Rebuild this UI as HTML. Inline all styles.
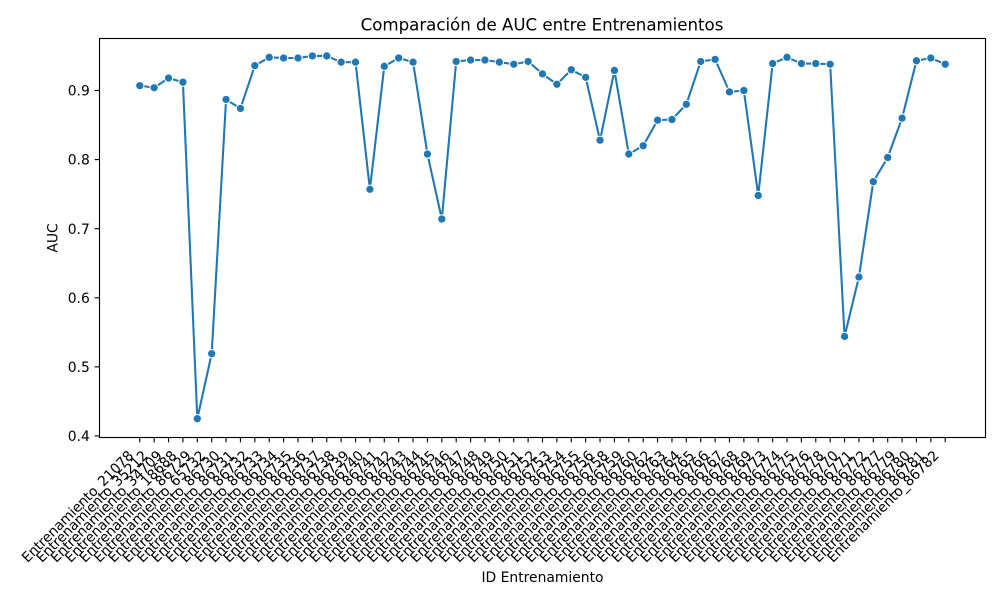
<!DOCTYPE html>
<html lang="es">
<head>
<meta charset="utf-8">
<title>Comparación de AUC entre Entrenamientos</title>
<style>
html,body{margin:0;padding:0;background:#fff;width:1000px;height:600px;overflow:hidden}
svg{display:block}
text{font-family:"DejaVu Sans","Liberation Sans",sans-serif;fill:#000}
</style>
</head>
<body>
<svg id="chart" xmlns="http://www.w3.org/2000/svg" width="1000" height="600" viewBox="0 0 1000 600">
  <rect x="0" y="0" width="1000" height="600" fill="#fff"/>
  <text x="542" y="30.5" font-size="16.67" text-anchor="middle" letter-spacing="-0.03">Comparación de AUC entre Entrenamientos</text>
  <text x="542.5" y="582" font-size="13.89" text-anchor="middle">ID Entrenamiento</text>
  <text transform="translate(57.5 238) rotate(-90)" font-size="13.89" text-anchor="middle">AUC</text>
  <g id="x-ticks"></g>
  <g id="y-ticks"></g>
  <path id="series-line" fill="none" stroke="#1f77b4" stroke-width="2.08" stroke-linejoin="round" stroke-linecap="round"></path>
  <g id="series-points"></g>
  <rect x="99.5" y="38.5" width="886" height="399" fill="none" stroke="#000" stroke-width="1.11"/>
</svg>
<script>
const categories = [
  "Entrenamiento_21078","Entrenamiento_35212","Entrenamiento_34709","Entrenamiento_18688",
  "Entrenamiento_86729","Entrenamiento_65732","Entrenamiento_86730","Entrenamiento_86731",
  "Entrenamiento_86732","Entrenamiento_86733","Entrenamiento_86734","Entrenamiento_86735",
  "Entrenamiento_86736","Entrenamiento_86737","Entrenamiento_86738","Entrenamiento_86739",
  "Entrenamiento_86740","Entrenamiento_86741","Entrenamiento_86742","Entrenamiento_86743",
  "Entrenamiento_86744","Entrenamiento_86745","Entrenamiento_86746","Entrenamiento_86747",
  "Entrenamiento_86748","Entrenamiento_86749","Entrenamiento_86750","Entrenamiento_86751",
  "Entrenamiento_86752","Entrenamiento_86753","Entrenamiento_86754","Entrenamiento_86755",
  "Entrenamiento_86756","Entrenamiento_86758","Entrenamiento_86759","Entrenamiento_86760",
  "Entrenamiento_86762","Entrenamiento_86763","Entrenamiento_86764","Entrenamiento_86765",
  "Entrenamiento_86766","Entrenamiento_86767","Entrenamiento_86768","Entrenamiento_86769",
  "Entrenamiento_86773","Entrenamiento_86774","Entrenamiento_86775","Entrenamiento_86776",
  "Entrenamiento_86778","Entrenamiento_86770","Entrenamiento_86771","Entrenamiento_86772",
  "Entrenamiento_86777","Entrenamiento_86779","Entrenamiento_86780","Entrenamiento_86781",
  "Entrenamiento_86782"
];
const aucValues = [
  0.907,0.904,0.918,0.912,0.425,0.519,0.887,0.874,0.936,0.948,
  0.947,0.947,0.950,0.950,0.941,0.941,0.757,0.935,0.947,0.941,
  0.808,0.714,0.942,0.944,0.944,0.941,0.938,0.942,0.924,0.909,
  0.930,0.919,0.828,0.929,0.808,0.820,0.857,0.858,0.880,0.942,
  0.945,0.898,0.900,0.748,0.939,0.948,0.939,0.939,0.938,0.544,
  0.630,0.768,0.803,0.860,0.943,0.947,0.938
];
const yTickValues = [0.4,0.5,0.6,0.7,0.8,0.9];
const yTickLabels = ["0.4","0.5","0.6","0.7","0.8","0.9"];

const SVG_NS = "http://www.w3.org/2000/svg";
const plotLeft = 99.5, plotRight = 985.5, plotTop = 38.5, plotBottom = 437.5;

function xScale(index) {
  const span = Math.max(categories.length - 1, 1);
  const inner = (plotRight - plotLeft) / 1.1;
  return plotLeft + (plotRight - plotLeft - inner) / 2 + index * inner / span;
}
function yScale(value) {
  const lo = Math.min.apply(null, aucValues);
  const hi = Math.max.apply(null, aucValues);
  const inner = (plotBottom - plotTop) / 1.1;
  const margin = (plotBottom - plotTop - inner) / 2;
  return plotBottom - 0.7 - margin - (value - lo) / ((hi - lo) || 1) * inner;
}

const xTicksGroup = document.getElementById("x-ticks");
categories.forEach(function (label, i) {
  const x = xScale(i);
  const tick = document.createElementNS(SVG_NS, "line");
  
  
  tick.setAttribute("x1", x);
  tick.setAttribute("x2", x);
  tick.setAttribute("y1", plotBottom);
  tick.setAttribute("y2", plotBottom + 4.86);
  tick.setAttribute("stroke", "#000");
  tick.setAttribute("stroke-width", "1.11");
  xTicksGroup.appendChild(tick);

  const text = document.createElementNS(SVG_NS, "text");
  
  
  text.setAttribute("font-size", "13.89");
  text.setAttribute("letter-spacing", "-0.16");
  text.setAttribute("text-anchor", "end");
  text.setAttribute("transform", "translate(" + (x - 5.6) + " " + (plotBottom + 19) + ") rotate(-45)");
  text.textContent = label;
  xTicksGroup.appendChild(text);
});

const yTicksGroup = document.getElementById("y-ticks");
yTickValues.forEach(function (value, i) {
  const y = yScale(value);
  const tick = document.createElementNS(SVG_NS, "line");
  
  
  tick.setAttribute("x1", plotLeft - 4.86);
  tick.setAttribute("x2", plotLeft);
  tick.setAttribute("y1", y);
  tick.setAttribute("y2", y);
  tick.setAttribute("stroke", "#000");
  tick.setAttribute("stroke-width", "1.11");
  yTicksGroup.appendChild(tick);

  const text = document.createElementNS(SVG_NS, "text");
  
  
  text.setAttribute("font-size", "13.89");
  text.setAttribute("text-anchor", "end");
  text.setAttribute("x", plotLeft - 9.7);
  text.setAttribute("y", y + 5.1);
  text.textContent = yTickLabels[i];
  yTicksGroup.appendChild(text);
});

document.getElementById("series-line").setAttribute("d", aucValues.map(function (v, i) {
  return (i ? "L" : "M") + xScale(i).toFixed(2) + " " + yScale(v).toFixed(2);
}).join(" "));

const pointsGroup = document.getElementById("series-points");
aucValues.forEach(function (v, i) {
  const dot = document.createElementNS(SVG_NS, "circle");
  
  
  dot.setAttribute("cx", xScale(i));
  dot.setAttribute("cy", yScale(v));
  dot.setAttribute("r", "4.17");
  dot.setAttribute("fill", "#1f77b4");
  dot.setAttribute("stroke", "#fff");
  dot.setAttribute("stroke-width", "1.04");
  pointsGroup.appendChild(dot);
});
</script>
</body>
</html>
